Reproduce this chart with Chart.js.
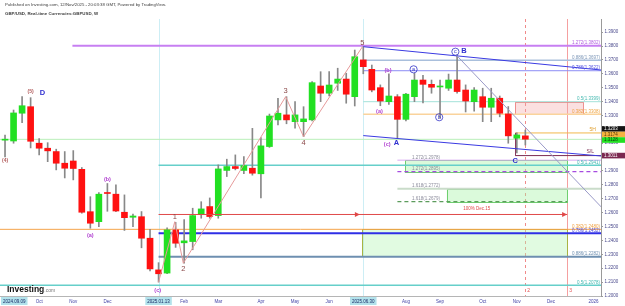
<!DOCTYPE html>
<html>
<head>
<meta charset="utf-8">
<script src="https://cdn.jsdelivr.net/npm/chart.js@4.4.1/dist/chart.umd.min.js"></script>
<style>
  html, body { margin: 0; padding: 0; background: #fff; }
  #wrap { width: 625px; height: 306px; }
</style>
</head>
<body>
<div id="wrap"><canvas id="chart" width="625" height="306"></canvas></div>
<script>
// --- DATA ---
// GBP/USD weekly bars, index 0 = week of 2024-09-09, index 61 = week of 2025-11-10
const opens  = [1.3122,1.3116,1.3316,1.3363,1.3100,1.3064,1.3040,1.2956,1.2972,1.2912,
                1.2607,1.2535,1.2742,1.2733,1.2603,1.2567,1.2571,1.2416,1.2188,1.2165,
                1.2476,1.2383,1.2392,1.2586,1.2644,1.2579,1.2904,1.2932,1.2904,1.2920,
                1.2880,1.3076,1.3268,1.3304,1.3255,1.3255,1.3268,1.3512,1.3460,1.3532,
                1.3562,1.3435,1.3700,1.3632,1.3500,1.3399,1.3435,1.3272,1.3435,1.3555,
                1.3524,1.3505,1.3496,1.3555,1.3483,1.3399,1.3435,1.3359,1.3424,1.3311,
                1.3136,1.3153];
const highs  = [1.3158,1.3339,1.3435,1.3428,1.3133,1.3104,1.3057,1.3040,1.3047,1.2925,
                1.2715,1.2745,1.2810,1.2800,1.2728,1.2590,1.2608,1.2480,1.2240,1.2490,
                1.2530,1.2550,1.2632,1.2679,1.2706,1.2944,1.2985,1.3016,1.3004,1.3207,
                1.3140,1.3310,1.3424,1.3435,1.3399,1.3363,1.3543,1.3615,1.3615,1.3640,
                1.3604,1.3771,1.3795,1.3663,1.3520,1.3600,1.3450,1.3460,1.3603,1.3588,
                1.3555,1.3555,1.3598,1.3735,1.3520,1.3500,1.3496,1.3496,1.3440,1.3364,
                1.3175,1.3195];
const lows   = [1.3002,1.3100,1.3248,1.3066,1.3016,1.2967,1.2908,1.2850,1.2836,1.2596,
                1.2488,1.2500,1.2610,1.2608,1.2472,1.2500,1.2347,1.2180,1.2100,1.2160,
                1.2350,1.2236,1.2333,1.2560,1.2560,1.2560,1.2860,1.2908,1.2880,1.2870,
                1.2706,1.3070,1.3232,1.3240,1.3208,1.3147,1.3260,1.3399,1.3440,1.3480,
                1.3388,1.3368,1.3600,1.3470,1.3370,1.3380,1.3136,1.3260,1.3399,1.3390,
                1.3460,1.3280,1.3480,1.3460,1.3325,1.3330,1.3255,1.3255,1.3290,1.3100,
                1.3030,1.3087];
const closes = [1.3125,1.3318,1.3370,1.3114,1.3064,1.3045,1.2956,1.2920,1.2918,1.2603,
                1.2524,1.2733,1.2738,1.2612,1.2564,1.2576,1.2416,1.2195,1.2160,1.2476,
                1.2380,1.2397,1.2579,1.2627,1.2572,1.2915,1.2932,1.2918,1.2939,1.2884,
                1.3081,1.3296,1.3316,1.3268,1.3304,1.3275,1.3536,1.3460,1.3519,1.3562,
                1.3453,1.3723,1.3651,1.3483,1.3404,1.3440,1.3272,1.3453,1.3555,1.3524,
                1.3503,1.3510,1.3555,1.3472,1.3404,1.3483,1.3359,1.3424,1.3316,1.3153,
                1.3160,1.3129];

// time axis: week index of first bar of each month
const monthTicks  = [4, 8, 12, 21, 25, 30, 34, 38, 47, 51, 56, 60, 64, 69];
const monthLabels = ['Oct','Nov','Dec','Feb','Mar','Apr','May','Jun','Aug','Sep','Oct','Nov','Dec','2026'];
const dateMarks   = [{ i: 0, t: '2024.09.09' }, { i: 18, t: '2025.01.13' }, { i: 42, t: '2025.06.30' }];

// elliott wave path (c)-1-2-3-4-5
const waveX = [18, 19.9, 20.9, 32.9, 35, 41.9];
const waveY = [1.2100, 1.2535, 1.2236, 1.3435, 1.3147, 1.3795];

// channel from wave 5 and trend line from B
const channelX     = [42, 69.9];
const channelUpper = [1.3795, 1.3627];
const channelLower = [1.3155, 1.3008];
const trendX = [52.9, 69.9];
const trendY = [1.3735, 1.2641];

// horizontal levels (price, start/end week index, text)
const levels = [
  { p: 1.3802, from: 7.9, to: 70, text: '1.272(1.3802)', kind: 'purple' },
  { p: 1.3697, from: 42, to: 70, text: '0.886(1.3697)', kind: 'steel' },
  { p: 1.3622, from: 42, to: 70, text: '0.786(1.3622)', kind: 'blue' },
  { p: 1.3399, from: 42, to: 70, text: '0.5(1.3399)', kind: 'teal' },
  { p: 1.3308, from: 42, to: 70, text: '0.382(1.3308)', kind: 'peach' },
  { p: 1.3128, from: -1, to: 70, text: '', kind: 'mint' },
  { p: 1.3174, from: 59.8, to: 70, text: '', kind: 'fiveH' },
  { p: 1.3011, from: 59.8, to: 70, text: '', kind: 'stop' },
  { p: 1.2978, from: 46, to: 70, text: '1.272(1.2978)', kind: 'lilac' },
  { p: 1.2941, from: 18, to: 70, text: '0.5(1.2941)', kind: 'teal2' },
  { p: 1.2895, from: 46, to: 70, text: '1.272(1.2895)', kind: 'purpleDash' },
  { p: 1.2772, from: 46, to: 70, text: '1.618(1.2772)', kind: 'sage' },
  { p: 1.2679, from: 46, to: 65.9, text: '1.618(1.2679)', kind: 'greenDash' },
  { p: 1.2480, from: -1, to: 70, text: '0.382(1.2480)', kind: 'orange' },
  { p: 1.2452, from: 18, to: 70, text: '0.786(1.2452)', kind: 'blue2' },
  { p: 1.2282, from: 18, to: 70, text: '0.886(1.2282)', kind: 'steel2' },
  { p: 1.2078, from: -1, to: 70, text: '0.5(1.2078)', kind: 'teal2' }
];

const zones = [
  { x0: 59.8, x1: 67.8, p0: 1.3399, p1: 1.3310, kind: 'pink' },
  { x0: 46.9, x1: 65.9, p0: 1.2978, p1: 1.2895, kind: 'green' },
  { x0: 51.8, x1: 65.9, p0: 1.2772, p1: 1.2679, kind: 'green' },
  { x0: 41.9, x1: 65.9, p0: 1.2480, p1: 1.2283, kind: 'olive' }
];

const verticals = [
  { i: 18, kind: 'cyan' }, { i: 42, kind: 'cyan' },
  { i: 61, kind: 'redDash', text: '2' }, { i: 65.9, kind: 'red', text: '3' }
];

// projection line from wave 1 high
const targetLine = { p: 1.2587, from: 18, mid: 41.6, to: 65.9, text: '100% Dec.15', textAt: 55.3, textP: 1.2627 };

const waveLabels = [
  { i: 0, p: 1.2975, t: '(4)', s: 'minor' },
  { i: 3, p: 1.3469, t: '(5)', s: 'minor' },
  { i: 4.4, p: 1.3459, t: 'D', s: 'major' },
  { i: 12, p: 1.2842, t: '(b)', s: 'sub' },
  { i: 10, p: 1.2439, t: '(a)', s: 'sub' },
  { i: 17.9, p: 1.2043, t: '(c)', s: 'sub' },
  { i: 19.9, p: 1.2569, t: '1', s: 'num' },
  { i: 20.9, p: 1.2192, t: '2', s: 'num' },
  { i: 32.9, p: 1.3478, t: '3', s: 'num' },
  { i: 35, p: 1.3102, t: '4', s: 'num' },
  { i: 41.9, p: 1.3824, t: '5', s: 'num' },
  { i: 44.9, p: 1.3622, t: '(b)', s: 'sub' },
  { i: 43.9, p: 1.3327, t: '(a)', s: 'sub' },
  { i: 44.8, p: 1.3092, t: '(c)', s: 'sub' },
  { i: 45.9, p: 1.3100, t: 'A', s: 'major' },
  { i: 47.9, p: 1.3632, t: 'a', s: 'circle' },
  { i: 50.9, p: 1.3287, t: 'b', s: 'circle' },
  { i: 52.8, p: 1.3759, t: 'c', s: 'circle' },
  { i: 53.8, p: 1.3764, t: 'B', s: 'major' },
  { i: 59.8, p: 1.2972, t: 'C', s: 'major' },
  { i: 68.6, p: 1.3037, t: 'S/L', s: 'stopTxt' },
  { i: 68.9, p: 1.3195, t: '5H', s: 'fiveTxt' }
];

// price flags on the right axis
const priceFlags = [
  { p: 1.3203, t: '1.3203', bg: '#141414', fg: '#ffffff' },
  { p: 1.3163, t: '1.3174', bg: '#f4b33f', fg: '#5a3a00' },
  { p: 1.3123, t: '1.3128', bg: '#22e022', fg: '#0c3a0c' },
  { p: 1.3011, t: '1.3011', bg: '#7b2850', fg: '#ffffff' }
];

// --- STYLES ---
const FONT = 'Liberation Sans, Arial, sans-serif';
const lineStyles = {
  purple:     { c: '#c77ff2', w: 2, lc: '#b15ee0' },
  steel:      { c: '#a9bfdc', w: 1.5, lc: '#7d97b8' },
  blue:       { c: '#8c8cf5', w: 1, lc: '#4f4fe0' },
  teal:       { c: '#a3e2d9', w: 1, lc: '#45b9b0' },
  peach:      { c: '#fad39c', w: 1.5, lc: '#eea443' },
  mint:       { c: '#b9efb9', w: 1 },
  fiveH:      { c: '#f2b84b', w: 1 },
  stop:       { c: '#7c2b52', w: 1 },
  lilac:      { c: '#d8a9f3', w: 1, lc: '#8c8c9c' },
  teal2:      { c: '#66cfca', w: 1.5, lc: '#3fb8b0' },
  purpleDash: { c: '#a64be0', w: 1.2, dash: [4, 3], lc: '#8c8c9c' },
  sage:       { c: '#cadcca', w: 2, lc: '#8c8c9c' },
  greenDash:  { c: '#5c9c5c', w: 1.2, dash: [4, 3], lc: '#8c8c9c' },
  orange:     { c: '#f5a44a', w: 1, lc: '#f0a040' },
  blue2:      { c: '#2f2fe6', w: 2, lc: '#4a4ae0' },
  steel2:     { c: '#6e8fb0', w: 2, lc: '#6e8fb0' }
};
const zoneStyles = {
  pink:  { fill: 'rgba(244,165,165,0.35)', stroke: 'rgba(235,120,120,0.8)' },
  green: { fill: 'rgba(160,242,160,0.38)', stroke: '#6fcf6f' },
  olive: { fill: 'rgba(175,245,175,0.38)', stroke: '#a9b342' }
};
const vStyles = {
  cyan:    { c: '#cdeef5', w: 1 },
  redDash: { c: '#f08a8a', w: 1, dash: [3, 3] },
  red:     { c: '#f5a0a0', w: 1 }
};
const labelStyles = {
  minor:   { f: 'bold 5px ' + FONT, c: '#b25c5c' },
  major:   { f: 'bold 7.5px ' + FONT, c: '#2f2fd0' },
  sub:     { f: 'bold 5.5px ' + FONT, c: '#b03fd0' },
  num:     { f: '7.5px ' + FONT, c: '#8a4848' },
  circle:  { f: '5.5px ' + FONT, c: '#3434c8' },
  stopTxt: { f: '5px ' + FONT, c: '#7c2b52' },
  fiveTxt: { f: '5px ' + FONT, c: '#e0a030' }
};

// --- DRAW HELPERS ---
function seg(ctx, x0, y0, x1, y1, c, w, dash) {
  ctx.beginPath();
  ctx.strokeStyle = c; ctx.lineWidth = w; ctx.setLineDash(dash || []);
  ctx.moveTo(x0, y0); ctx.lineTo(x1, y1); ctx.stroke();
  ctx.setLineDash([]);
}
function arrowHead(ctx, x, y, c) {
  ctx.beginPath(); ctx.fillStyle = c;
  ctx.moveTo(x, y); ctx.lineTo(x - 5, y - 2.5); ctx.lineTo(x - 5, y + 2.5); ctx.closePath(); ctx.fill();
}

const overlay = {
  id: 'overlay',
  beforeDatasetsDraw(chart) {
    const { ctx, chartArea: a, scales: { x, y } } = chart;
    ctx.save();
    ctx.beginPath(); ctx.rect(a.left, a.top, a.width, a.height); ctx.clip();
    verticals.forEach(v => {
      const st = vStyles[v.kind], px = Math.round(x.getPixelForValue(v.i)) + 0.5;
      seg(ctx, px, a.top, px, a.bottom, st.c, st.w, st.dash);
    });
    zones.forEach(z => {
      const st = zoneStyles[z.kind];
      const l = x.getPixelForValue(z.x0), r = x.getPixelForValue(z.x1);
      const t = y.getPixelForValue(z.p0), b = y.getPixelForValue(z.p1);
      ctx.fillStyle = st.fill; ctx.fillRect(l, t, r - l, b - t);
      ctx.strokeStyle = st.stroke; ctx.lineWidth = 1;
      ctx.strokeRect(Math.round(l) + 0.5, Math.round(t) + 0.5, Math.round(r - l), Math.round(b - t));
    });
    levels.forEach(lv => {
      const st = lineStyles[lv.kind];
      const py = y.getPixelForValue(lv.p);
      seg(ctx, x.getPixelForValue(lv.from), py, x.getPixelForValue(lv.to), py, st.c, st.w, st.dash);
    });
    // S/L link
    const sx = Math.round(x.getPixelForValue(59.8)) + 0.5;
    seg(ctx, sx, y.getPixelForValue(1.3174), sx, y.getPixelForValue(1.3011), '#8a3a60', 1);
    ctx.restore();
  },
  afterDatasetsDraw(chart) {
    const { ctx, chartArea: a, scales: { x, y } } = chart;
    ctx.save();
    ctx.beginPath(); ctx.rect(a.left, a.top, a.width, a.height); ctx.clip();
    // wave path
    ctx.beginPath(); ctx.strokeStyle = '#e69a9a'; ctx.lineWidth = 1;
    waveX.forEach((v, k) => {
      const px = x.getPixelForValue(v), py = y.getPixelForValue(waveY[k]);
      if (k === 0) ctx.moveTo(px, py); else ctx.lineTo(px, py);
    });
    ctx.stroke();
    // channel and trend
    seg(ctx, x.getPixelForValue(channelX[0]), y.getPixelForValue(channelUpper[0]),
             x.getPixelForValue(channelX[1]), y.getPixelForValue(channelUpper[1]), '#3a3ae2', 1);
    seg(ctx, x.getPixelForValue(channelX[0]), y.getPixelForValue(channelLower[0]),
             x.getPixelForValue(channelX[1]), y.getPixelForValue(channelLower[1]), '#3a3ae2', 1);
    seg(ctx, x.getPixelForValue(trendX[0]), y.getPixelForValue(trendY[0]),
             x.getPixelForValue(trendX[1]), y.getPixelForValue(trendY[1]), '#9a9ac8', 1);
    // projection arrow
    const tp = y.getPixelForValue(targetLine.p);
    seg(ctx, x.getPixelForValue(targetLine.from), tp, x.getPixelForValue(targetLine.to), tp, '#e04848', 1);
    arrowHead(ctx, x.getPixelForValue(targetLine.mid), tp, '#e04848');
    arrowHead(ctx, x.getPixelForValue(targetLine.to), tp, '#e04848');
    ctx.font = '4.5px ' + FONT; ctx.fillStyle = '#e04848'; ctx.textAlign = 'center'; ctx.textBaseline = 'middle';
    ctx.fillText(targetLine.text, x.getPixelForValue(targetLine.textAt), y.getPixelForValue(targetLine.textP));
    // level texts
    ctx.font = '4.5px ' + FONT; ctx.textBaseline = 'bottom';
    levels.forEach(lv => {
      if (!lv.text) return;
      const st = lineStyles[lv.kind];
      const py = y.getPixelForValue(lv.p) - 0.5;
      ctx.fillStyle = st.lc;
      if (lv.from >= 46 && lv.from < 47) { ctx.textAlign = 'left'; ctx.fillText(lv.text, 412, py); }
      else { ctx.textAlign = 'right'; ctx.fillText(lv.text, a.right - 1, py); }
    });
    // wave labels
    ctx.textAlign = 'center'; ctx.textBaseline = 'middle';
    waveLabels.forEach(w => {
      const st = labelStyles[w.s];
      const px = x.getPixelForValue(w.i), py = y.getPixelForValue(w.p);
      ctx.font = st.f; ctx.fillStyle = st.c;
      if (w.s === 'circle') {
        ctx.beginPath(); ctx.strokeStyle = st.c; ctx.lineWidth = 0.8;
        ctx.arc(px, py, 3.6, 0, Math.PI * 2); ctx.stroke();
      }
      ctx.fillText(w.t, px, py);
    });
    // vertical line numbers
    ctx.font = '5px ' + FONT; ctx.fillStyle = '#e05050'; ctx.textAlign = 'left';
    verticals.forEach(v => { if (v.text) ctx.fillText(v.text, x.getPixelForValue(v.i) + 2, a.bottom - 5); });
    ctx.restore();
  },
  afterDraw(chart) {
    const { ctx, chartArea: a, scales: { x, y } } = chart;
    ctx.save();
    // header
    ctx.textAlign = 'left'; ctx.textBaseline = 'middle'; ctx.fillStyle = '#3c3c3c';
    ctx.font = '4.3px ' + FONT;
    ctx.fillText('Published on Investing.com, 12/Nov/2025 - 20:03:38 GMT, Powered by TradingView.', 5, 5);
    ctx.font = 'bold 4.4px ' + FONT;
    ctx.fillText('GBP/USD, Real-time Currencies:GBPUSD, W', 5, 14);
    // logo
    ctx.font = 'bold 8.5px ' + FONT; ctx.fillStyle = '#111';
    ctx.fillText('Investing', 7, 290);
    const lw = ctx.measureText('Investing').width;
    ctx.font = '5px ' + FONT; ctx.fillStyle = '#777';
    ctx.fillText('.com', 7 + lw, 291);
    // date flags on time axis
    ctx.font = '4.5px ' + FONT; ctx.textAlign = 'center';
    dateMarks.forEach(d => {
      const w = ctx.measureText(d.t).width + 4;
      let cx = x.getPixelForValue(d.i);
      if (cx - w / 2 < 1) cx = 1 + w / 2;
      ctx.fillStyle = '#b2e2eb'; ctx.fillRect(cx - w / 2, 297, w, 8);
      ctx.fillStyle = '#1b2a66'; ctx.fillText(d.t, cx, 301.3);
    });
    // price flags on right axis
    priceFlags.forEach(f => {
      const py = y.getPixelForValue(f.p);
      ctx.fillStyle = f.bg; ctx.fillRect(a.right + 1, py - 2.8, 23, 5.6);
      ctx.fillStyle = f.fg; ctx.textAlign = 'left'; ctx.fillText(f.t, a.right + 3, py + 0.2);
    });
    ctx.restore();
  }
};

// --- CHART ---
const idx = opens.map((_, i) => i);
const upColor = '#22e022', downColor = '#ff1111';
const bodyColors = idx.map(i => closes[i] >= opens[i] ? upColor : downColor);

new Chart(document.getElementById('chart'), {
  type: 'bar',
  data: {
    datasets: [
      { data: idx.map(i => ({ x: i, y: [opens[i], closes[i]] })), backgroundColor: bodyColors,
        barThickness: 6, grouped: false, minBarLength: 1, order: 1 },
      { data: idx.map(i => ({ x: i, y: [lows[i], highs[i]] })), backgroundColor: '#888888',
        barThickness: 1, grouped: false, order: 2 }
    ]
  },
  options: {
    responsive: false,
    animation: false,
    devicePixelRatio: 1,
    layout: { padding: { top: 19, left: 0, right: 0, bottom: 0 } },
    plugins: { legend: { display: false }, tooltip: { enabled: false } },
    scales: {
      x: {
        type: 'linear', min: -0.59, max: 69.87, offset: false,
        grid: { display: false, drawTicks: false },
        border: { color: '#b5b5b5' },
        afterBuildTicks: s => { s.ticks = monthTicks.map(v => ({ value: v })); },
        afterFit: s => { s.height = 10; },
        ticks: {
          autoSkip: false, maxRotation: 0, padding: 3, color: '#4242a6',
          font: { size: 4.5, family: FONT },
          callback: (v, k) => monthLabels[k]
        }
      },
      y: {
        position: 'right', min: 1.2000, max: 1.39944,
        grid: { drawOnChartArea: false, tickLength: 2, color: '#9a9a9a' },
        border: { color: '#9a9a9a' },
        afterFit: s => { s.width = 24; },
        ticks: {
          stepSize: 0.01, includeBounds: false, autoSkip: false, padding: 1.5, color: '#4a4a8c',
          font: { size: 4.5, family: FONT },
          callback: v => v.toFixed(4)
        }
      }
    }
  },
  plugins: [overlay]
});
</script>
</body>
</html>
